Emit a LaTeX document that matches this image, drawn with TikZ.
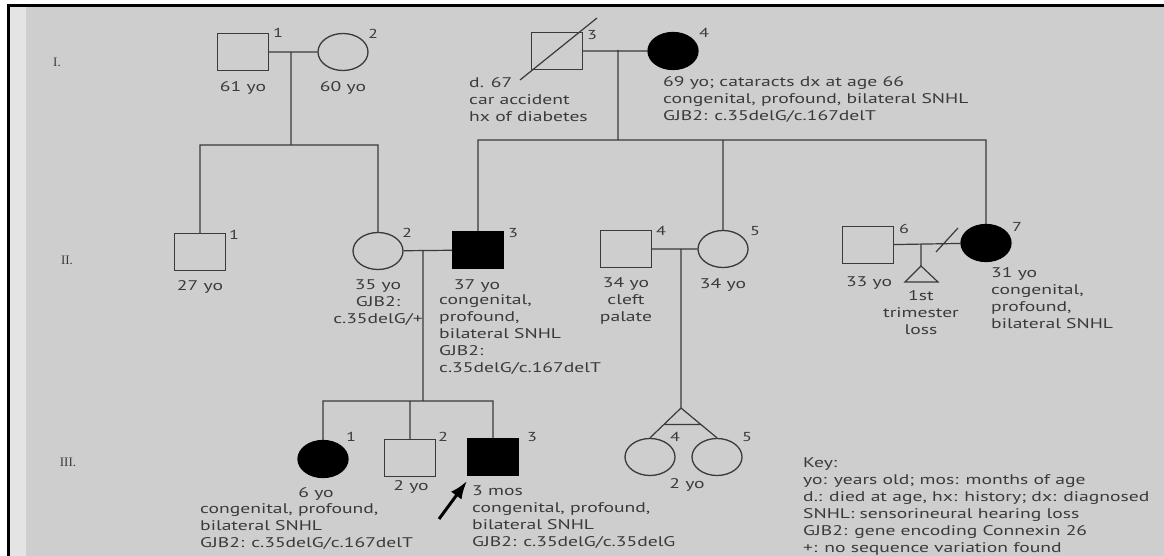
\documentclass[tikz,border=0pt]{standalone}
\usepackage{fontspec}
\setmainfont{PT Sans}[FakeStretch=1.4]
\newfontfamily\genfont{Liberation Serif}
\usetikzlibrary{shapes.geometric,arrows.meta,calc}

\definecolor{paper}{HTML}{CECECE}
\definecolor{ink}{HTML}{3A3A3A}

\begin{document}
\begin{tikzpicture}[x=1pt,y=-1pt]
\tikzstyle{male}=[draw=ink,line width=1.3pt,rectangle,minimum width=51pt,minimum height=37pt,inner sep=0pt]
\tikzstyle{female}=[draw=ink,line width=1.3pt,ellipse,minimum width=50pt,minimum height=37pt,inner sep=0pt]
\tikzstyle{affected}=[fill=black,draw=black]
\tikzstyle{num}=[text=ink,font=\fontsize{13}{15}\selectfont,inner sep=0pt]
\tikzstyle{info}=[text=ink,font=\fontsize{14}{17}\selectfont,inner sep=0pt,align=left]
\tikzstyle{gen}=[text=ink,font=\genfont\fontsize{13}{15}\selectfont,inner sep=0pt]
\tikzstyle{link}=[draw=ink,line width=1.2pt]

% page, scanned border
\fill[white] (0,0) rectangle (1164,556);
\fill[paper] (9,7) rectangle (1164,556);
\fill[paper!55!white] (9,7) rectangle (26,556);
\fill[black] (7,4) rectangle (1164,7.5);
\fill[black] (7,4) rectangle (9.5,556);
\useasboundingbox (0,0) rectangle (1164,556);

% generations
\node[gen] (g1) at (57,62) {I.};
\node[gen] (g2) at (67,260) {II.};
\node[gen] (g3) at (68,462) {III.};

% generation I
\node[male] (i1) at (243,52) {};
\node[female] (i2) at (343,52) {};
\node[male] (i3) at (557,51) {};
\node[female,affected] (i4) at (673,51) {};
\draw[link] ($(i3.center)+(-37,29)$) -- ($(i3.center)+(40,-33)$);

% generation II
\node[male] (ii1) at (200,252) {};
\node[female] (ii2) at (378,251) {};
\node[male,affected] (ii3) at (478,250) {};
\node[male] (ii4) at (626,249) {};
\node[female] (ii5) at (723,249) {};
\node[male] (ii6) at (868,245) {};
\node[female,affected] (ii7) at (986,243) {};

% generation III
\node[female,affected] (iii1) at (323,459) {};
\node[male] (iii2) at (410,458) {};
\node[male,affected] (iii3) at (493,457) {};
\node[female] (iii4) at (650,457) {};
\node[female] (iii5) at (717,457) {};

% numbers
\node[num] (i1n) at (278,33) {1};
\node[num] (i2n) at (373,34) {2};
\node[num] (i3n) at (592,35) {3};
\node[num] (i4n) at (704,33) {4};
\node[num] (ii1n) at (234,235) {1};
\node[num] (ii2n) at (407,233) {2};
\node[num] (ii3n) at (513,233) {3};
\node[num] (ii4n) at (661,231) {4};
\node[num] (ii5n) at (755,231) {5};
\node[num] (ii6n) at (904,229) {6};
\node[num] (ii7n) at (1017,227) {7};
\node[num] (iii1n) at (351,437) {1};
\node[num] (iii2n) at (443,437) {2};
\node[num] (iii3n) at (532,437) {3};
\node[num] (iii4n) at (675,437) {4};
\node[num] (iii5n) at (747,437) {5};

% ages and notes
\node[info] (i1a) at (243,88) {61 yo};
\node[info] (i2a) at (343,88) {60 yo};
\node[info,anchor=north west] (i3t) at (469,77) {d. 67\\car accident\\hx of diabetes};
\node[info,anchor=north west] (i4t) at (663,76) {69 yo; cataracts dx at age 66\\congenital, profound, bilateral SNHL\\GJB2: c.35delG/c.167delT};
\node[info] (ii1a) at (200,287) {27 yo};
\node[info,anchor=north,align=center] (ii2t) at (378,279) {35 yo\\GJB2:\\c.35delG/+};
\node[info] (ii3a) at (477,286) {37 yo};
\node[info,anchor=north west] (ii3t) at (439,294) {congenital,\\profound,\\bilateral SNHL\\GJB2:\\c.35delG/c.167delT};
\node[info,anchor=north,align=center] (ii4t) at (626,277) {34 yo\\cleft\\palate};
\node[info] (ii5a) at (723,285) {34 yo};
\node[info] (ii6a) at (869,283) {33 yo};
\node[info,anchor=north,align=center] (losst) at (921,290) {1st\\trimester\\loss};
\node[info,anchor=north west] (ii7t) at (991,267) {31 yo\\congenital,\\profound,\\bilateral SNHL};
\node[info] (iii1a) at (316,494) {6 yo};
\node[info,anchor=north west] (iii1t) at (200,503) {congenital, profound,\\bilateral SNHL\\GJB2: c.35delG/c.167delT};
\node[info] (iii2a) at (411,487) {2 yo};
\node[info,anchor=north west] (iii3t) at (472,485) {3 mos\\congenital, profound,\\bilateral SNHL\\GJB2: c.35delG/c.35delG};
\node[info] (twina) at (687,485) {2 yo};

% key
\node[info,anchor=north west] (key) at (803,457) {Key:\\yo: years old; mos: months of age\\d.: died at age, hx: history; dx: diagnosed\\SNHL: sensorineural hearing loss\\GJB2: gene encoding Connexin 26\\+: no sequence variation found};

% lines of descent
\coordinate (m1) at (291,52);
\coordinate (s1) at (291,145);
\coordinate (m2) at (618,50);
\coordinate (s2) at (618,140);
\coordinate (m3) at (423,250);
\coordinate (s3) at (423,401);
\coordinate (m4) at (681,249);
\coordinate (tw) at (681,408);
\coordinate (m5) at (921,244);
\coordinate (loss) at (921,266);
\coordinate (sep1) at (936,252);
\coordinate (sep2) at (958,228);
\draw[link] (i1) -- (i2)
(m1) -- (s1)
(ii1.north) |- (s1) -| (ii2.north)
(i3) -- (i4)
(m2) -- (s2)
(ii3.north) |- (s2) -| (ii7.north)
(s2) -| (ii5.north)
(ii2) -- (ii3)
(m3) -- (s3)
(iii1.north) |- (s3) -| (iii3.north)
(s3) -| (iii2.north)
(ii4) -- (ii5)
(m4) -- (tw)
(tw) -- (iii4.north)
(tw) -- (iii5.north)
($(tw)!0.55!(iii4.north)$) -- ($(tw)!0.55!(iii5.north)$)
(ii6) -- (ii7)
(sep1) -- (sep2)
(m5) -- (loss);
\draw[link] (loss) -- ++(-16,16) -- ++(33,0) -- cycle;

% proband
\coordinate (pa) at (439,519);
\coordinate (pb) at (467,481);
\draw[-{Latex[length=18pt,width=13pt]},line width=3pt,black] (pa) -- (pb);
\end{tikzpicture}
\end{document}
